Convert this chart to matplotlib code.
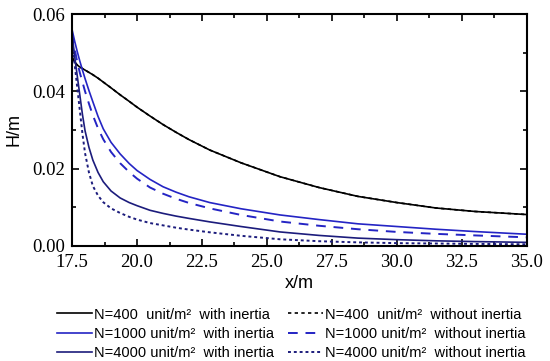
import matplotlib
matplotlib.use("Agg")
import matplotlib.pyplot as plt
from matplotlib.ticker import MultipleLocator

# distance along x (m)
x = [17.5, 17.6, 17.7, 17.8, 17.9, 18.0, 18.15, 18.3, 18.5, 18.7, 19.0, 19.35, 19.7,
     20.0, 20.5, 21.0, 21.5, 22.0, 22.8, 24.0, 25.5, 27.0, 28.5, 30.0, 31.5, 33.0, 35.0]

# water depth H (m)
h400_inertia = [0.0488, 0.0476, 0.0468, 0.0463, 0.0459, 0.0455, 0.0449, 0.0443, 0.0434,
                0.0424, 0.0409, 0.0391, 0.0374, 0.0359, 0.0336, 0.0314, 0.0294, 0.0275,
                0.0248, 0.0215, 0.0179, 0.0151, 0.0128, 0.0112, 0.0098, 0.0089, 0.0081]
h400_no_inertia = list(h400_inertia)
h1000_inertia = [0.0560, 0.0530, 0.0503, 0.0478, 0.0455, 0.0433, 0.0402, 0.0373, 0.0335,
                 0.0303, 0.0268, 0.0238, 0.0213, 0.0195, 0.0172, 0.0153, 0.0139, 0.0127,
                 0.0112, 0.0096, 0.0080, 0.0068, 0.0057, 0.0050, 0.0043, 0.0037, 0.0030]
h1000_no_inertia = [0.0550, 0.0510, 0.0476, 0.0448, 0.0424, 0.0400, 0.0368, 0.0338, 0.0304,
                    0.0276, 0.0243, 0.0214, 0.0191, 0.0174, 0.0151, 0.0135, 0.0122, 0.0111,
                    0.0097, 0.0080, 0.0063, 0.0052, 0.0043, 0.0036, 0.0031, 0.0027, 0.0022]
h4000_inertia = [0.0550, 0.0490, 0.0440, 0.0390, 0.0340, 0.0298, 0.0255, 0.0222, 0.0190,
                 0.0166, 0.0142, 0.0124, 0.0112, 0.0104, 0.0092, 0.0084, 0.0077, 0.0071,
                 0.0062, 0.0050, 0.0036, 0.0027, 0.0020, 0.0016, 0.0013, 0.0011, 0.0009]
h4000_no_inertia = [0.0540, 0.0470, 0.0410, 0.0350, 0.0290, 0.0240, 0.0190, 0.0155, 0.0130,
                    0.0113, 0.0097, 0.0085, 0.0075, 0.0068, 0.0059, 0.0053, 0.0047, 0.0042,
                    0.0035, 0.0026, 0.0017, 0.0012, 0.0009, 0.0007, 0.0006, 0.0005, 0.0004]

black = "#000000"
blue = "#2424c4"
navy = "#1c1c7c"

fig = plt.figure(figsize=(5.5, 3.61), dpi=100)
ax = fig.add_axes([0.131, 0.319, 0.827, 0.642])

l1, = ax.plot(x, h400_inertia, color=black, lw=1.2, ls="-")
l4, = ax.plot(x, h400_no_inertia, color=black, lw=1.2, ls=(0, (2, 2)), zorder=1)
l2, = ax.plot(x, h1000_inertia, color=blue, lw=1.2, ls="-")
l5, = ax.plot(x, h1000_no_inertia, color=blue, lw=1.4, ls=(0, (5, 4)))
l3, = ax.plot(x, h4000_inertia, color=navy, lw=1.2, ls="-")
l6, = ax.plot(x, h4000_no_inertia, color=navy, lw=1.4, ls=(0, (1.5, 1.5)))

ax.set_xlim(17.5, 35.0)
ax.set_ylim(0.0, 0.06)
ax.xaxis.set_major_locator(MultipleLocator(2.5))
ax.xaxis.set_minor_locator(MultipleLocator(1.25))
ax.yaxis.set_major_locator(MultipleLocator(0.02))
ax.yaxis.set_minor_locator(MultipleLocator(0.01))
ax.xaxis.set_major_formatter(plt.FuncFormatter(lambda v, p: f"{v:.1f}"))
ax.yaxis.set_major_formatter(plt.FuncFormatter(lambda v, p: f"{v:.2f}"))
ax.tick_params(which="both", direction="in", top=True, right=True, width=1.2)
ax.tick_params(which="major", length=5, labelsize=13.5,
               labelfontfamily="Liberation Serif")
ax.tick_params(axis="x", which="major", pad=6)
ax.tick_params(axis="y", which="major", pad=5)
ax.tick_params(which="minor", length=3)
for s in ax.spines.values():
    s.set_linewidth(1.5)

ax.set_xlabel("x/m", family="Liberation Sans", fontsize=13, labelpad=3)
ax.set_ylabel("H/m", family="Liberation Sans", fontsize=13, labelpad=7)

labels = ["N=400  unit/m\u00b2  with inertia",
          "N=1000 unit/m\u00b2  with inertia",
          "N=4000 unit/m\u00b2  with inertia",
          "N=400  unit/m\u00b2  without inertia",
          "N=1000 unit/m\u00b2  without inertia",
          "N=4000 unit/m\u00b2  without inertia"]
fig.legend([l1, l2, l3, l4, l5, l6], labels, ncol=2, frameon=False,
           loc="upper left", bbox_to_anchor=(0.104, 0.148),
           prop={"family": "Liberation Sans", "size": 10.5},
           handlelength=2.4, handletextpad=0.15, columnspacing=0.9,
           labelspacing=0.36, borderaxespad=0, borderpad=0)

fig.savefig("out.png", dpi=100)
